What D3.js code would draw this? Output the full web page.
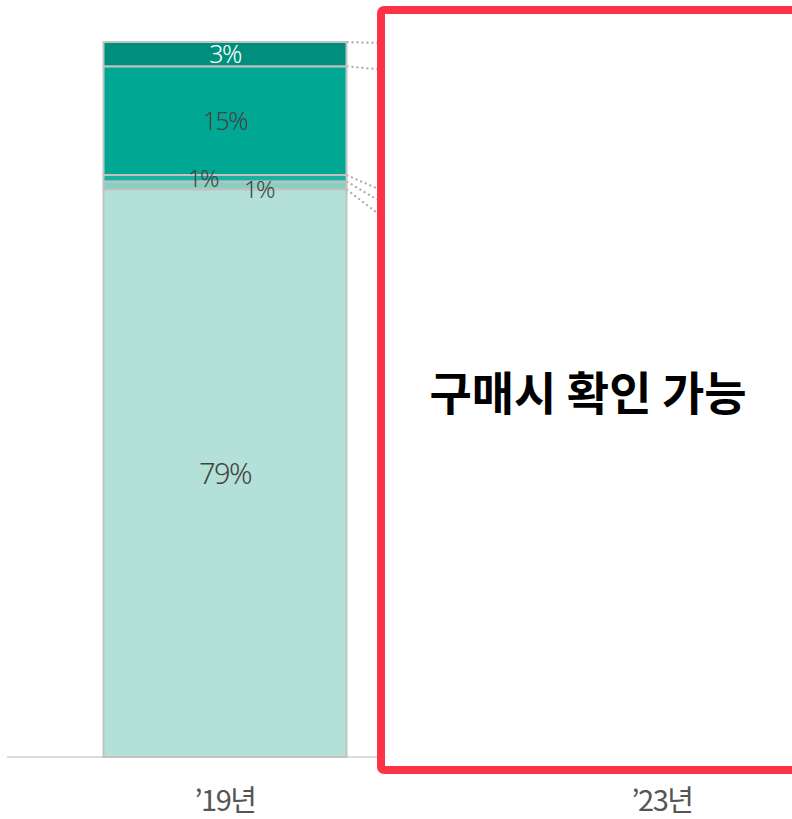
<!DOCTYPE html>
<html>
<head>
<meta charset="utf-8">
<script src="https://cdn.jsdelivr.net/npm/d3@7"></script>
<style>
  html, body { margin: 0; padding: 0; background: #fff; }
  svg { display: block; }
</style>
</head>
<body>
<svg id="chart" width="792" height="819"></svg>
<script>
// ---- data ----
const years = ["’19년", "’23년"];
const values19 = [79.4, 1.1, 0.9, 15.2, 3.4];                  // '19 shares (%), bottom -> top
const labels19 = ["79%", "1%", "1%", "15%", "3%"];
const hiddenCum23 = [58.5, 64.5, 69.5, 94.1, 99.2];            // '23 boundaries (hidden, connector targets)
const segmentColors = ["#b3e0d7", "#86d0c1", "#16b4a0", "#00a893", "#008f7d"];
const labelColors = ["#444", "#444", "#444", "#444", "#fff"];
const maskText = "구매시 확인 가능";

// ---- layout ----
const svg = d3.select("#chart");
const plotTop = 42, plotBottom = 757;

const x = d3.scalePoint().domain(years).range([225, 662]);
const y = d3.scaleLinear().domain([0, 100]).range([plotBottom, plotTop]);

// stacked data
let cum = 0;
const stack = values19.map((v, i) => {
  const d = { i, y0: cum, y1: cum + v, label: labels19[i] };
  cum += v;
  return d;
});

const bw = 243;
const cx19 = x(years[0]);
const cx23 = x(years[1]);
const bx = cx19 - bw / 2;

// baseline
svg.append("line")
  .attr("x1", 7).attr("x2", 500)
  .attr("y1", y(0)).attr("y2", y(0))
  .attr("stroke", "#dcdcdc").attr("stroke-width", 2);

// connectors to '23 bar
const conn = stack.map((d, i) => ({ a: d.y1, b: hiddenCum23[i] }));
svg.append("g").selectAll("line")
  .data(conn)
  .join("line")
  .attr("x1", bx + bw).attr("y1", d => y(d.a))
  .attr("x2", cx23 - bw / 2).attr("y2", d => y(d.b))
  .attr("stroke", "#a8a8a8").attr("stroke-width", 2)
  .attr("stroke-dasharray", "2,3");

// bars
svg.append("g").selectAll("rect")
  .data(stack)
  .join("rect")
  .attr("x", bx).attr("width", bw)
  .attr("y", d => y(d.y1)).attr("height", d => y(d.y0) - y(d.y1))
  .attr("fill", d => segmentColors[d.i])
  .attr("stroke", "#c2c2c2").attr("stroke-width", 2);

// labels
const labelFont = "'Noto Sans', 'DejaVu Sans', sans-serif";
const labelPos = [
  { dx: 0, dy: -1, size: 29 },
  { dx: 34, dy: 3, size: 24 },
  { dx: -22, dy: -1, size: 24 },
  { dx: 0, dy: -1, size: 25 },
  { dx: 0, dy: -1, size: 25 }
];
svg.append("g").selectAll("text")
  .data(stack)
  .join("text")
  .attr("x", d => cx19 + labelPos[d.i].dx)
  .attr("y", d => (y(d.y0) + y(d.y1)) / 2 + labelPos[d.i].dy)
  .attr("text-anchor", "middle")
  .attr("dominant-baseline", "central")
  .attr("font-family", labelFont)
  .attr("font-weight", 300)
  .attr("font-size", d => labelPos[d.i].size)
  .attr("letter-spacing", -1.5)
  .attr("fill", d => labelColors[d.i])
  .text(d => d.label);

// mask box over '23
svg.append("rect")
  .attr("x", 381).attr("y", 10)
  .attr("width", 420).attr("height", 760)
  .attr("rx", 3)
  .attr("fill", "#fff")
  .attr("stroke", "#ff3347").attr("stroke-width", 8);

svg.append("text")
  .attr("x", 588).attr("y", 390)
  .attr("text-anchor", "middle")
  .attr("dominant-baseline", "central")
  .attr("font-family", "'Noto Sans CJK KR', sans-serif")
  .attr("font-weight", 700)
  .attr("font-size", 46)
  .attr("fill", "#000")
  .text(maskText);

// x axis labels
svg.append("g").selectAll("text")
  .data(years)
  .join("text")
  .attr("x", d => x(d))
  .attr("y", 798)
  .attr("text-anchor", "middle")
  .attr("dominant-baseline", "central")
  .attr("font-family", "'Noto Sans CJK KR', sans-serif")
  .attr("font-weight", 400)
  .attr("font-size", 29)
  .attr("letter-spacing", -1.5)
  .attr("fill", "#555")
  .text(d => d);
</script>
</body>
</html>
